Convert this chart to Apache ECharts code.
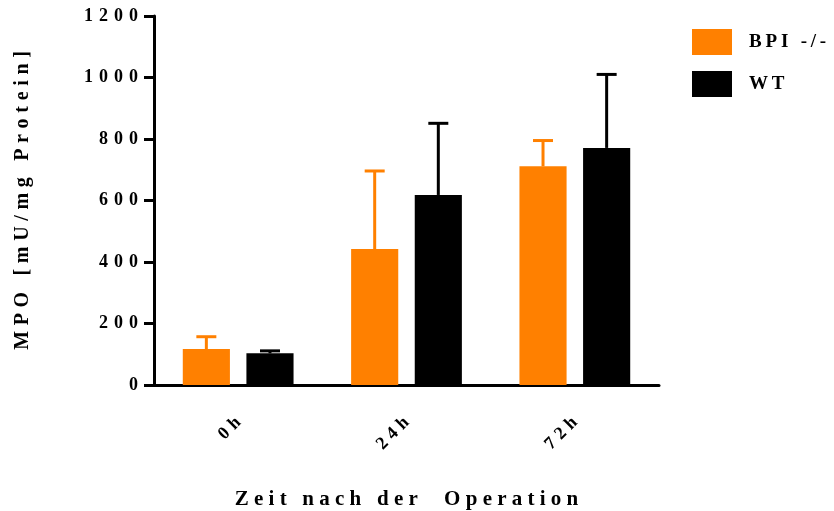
<!DOCTYPE html>
<html>
<head>
<meta charset="utf-8">
<script src="https://cdn.jsdelivr.net/npm/echarts@6/dist/echarts.min.js"></script>
<style>
  html, body { margin: 0; padding: 0; background: #fff; }
  #chart { width: 834px; height: 511px; }
</style>
</head>
<body>
<div id="chart"></div>
<script>
// MPO activity per time point after surgery
const categories = ['0h', '24h', '72h'];
const seriesNames = ['BPI -/-', 'WT'];
const bpiMean = [117, 442, 711];
const bpiUpper = [157, 696, 795];   // mean + error
const wtMean = [103, 618, 771];
const wtUpper = [111, 851, 1010];   // mean + error
const yTicks = [0, 200, 400, 600, 800, 1000, 1200];

const ORANGE = '#FF8000';
const BLACK = '#000000';
const FONT = '"Liberation Serif", "DejaVu Serif", serif';

const BAR_W = 0.28;   // fraction of category band
const BAR_GAP = 0.35; // fraction of bar width

const WIDE = ' \u200A';   // letter separator for spread-out labels

// spread letters like the original typesetting
function spaced(s, sep) {
  return s.split('').join(sep || WIDE);
}

function errorSeries(name, means, uppers, color, side) {
  return {
    type: 'custom',
    name: name + ' error',
    silent: true,
    z: 1,
    data: means.map((m, i) => [i, m, uppers[i]]),
    renderItem: function (params, api) {
      const idx = api.value(0);
      const base = api.coord([idx, api.value(1)]);
      const top = api.coord([idx, api.value(2)]);
      const band = api.size([1, 0])[0];
      const bw = band * BAR_W;
      const x = base[0] + side * (bw + bw * BAR_GAP) / 2;
      const capHalf = 10;
      return {
        type: 'group',
        children: [
          { type: 'line', shape: { x1: x, y1: base[1], x2: x, y2: top[1] },
            style: { stroke: color, lineWidth: 3 } },
          { type: 'line', shape: { x1: x - capHalf, y1: top[1], x2: x + capHalf, y2: top[1] },
            style: { stroke: color, lineWidth: 3 } }
        ]
      };
    }
  };
}

const chart = echarts.init(document.getElementById('chart'));
chart.setOption({
  animation: false,
  backgroundColor: '#fff',
  grid: { left: 154, right: 175, top: 16, bottom: 126, outerBoundsMode: 'none', containLabel: false },
  legend: {
    data: seriesNames,
    orient: 'vertical',
    left: 692,
    top: 29,
    padding: 0,
    itemWidth: 40,
    itemHeight: 26,
    itemGap: 16,
    icon: 'rect',
    textStyle: {
      fontFamily: FONT, fontWeight: 'bold', fontSize: 19, color: '#000',
      padding: [0, 0, 0, 12]
    },
    formatter: n => spaced(n, '\u2009')
  },
  xAxis: {
    type: 'category',
    data: categories,
    name: spaced('Zeit nach der  Operation', ' '),
    nameLocation: 'middle',
    nameGap: 104,
    nameTextStyle: { fontFamily: FONT, fontWeight: 'bold', fontSize: 21, color: '#000' },
    axisLine: { lineStyle: { color: '#000', width: 3 } },
    axisTick: { alignWithLabel: true, length: 9, lineStyle: { color: '#000', width: 3 } },
    axisLabel: {
      rotate: 45, margin: 35,
      fontFamily: FONT, fontWeight: 'bold', fontSize: 18, color: '#000',
      formatter: v => spaced(v, '\u2009\u200A')
    }
  },
  yAxis: {
    type: 'value',
    min: yTicks[0],
    max: yTicks[yTicks.length - 1],
    interval: 200,
    name: spaced('MPO [mU/mg Protein]', '\u2009\u200A'),
    nameLocation: 'middle',
    nameGap: 121,
    nameTextStyle: { fontFamily: FONT, fontWeight: 'bold', fontSize: 20, color: '#000' },
    axisLine: { show: true, lineStyle: { color: '#000', width: 3 } },
    axisTick: { show: true, length: 10, lineStyle: { color: '#000', width: 3 } },
    splitLine: { show: false },
    axisLabel: {
      margin: 16,
      fontFamily: FONT, fontWeight: 'bold', fontSize: 18, color: '#000',
      formatter: v => spaced(String(v))
    }
  },
  series: [
    {
      name: seriesNames[0], type: 'bar', data: bpiMean,
      barWidth: (BAR_W * 100) + '%', barGap: (BAR_GAP * 100) + '%',
      itemStyle: { color: ORANGE }, z: 2
    },
    {
      name: seriesNames[1], type: 'bar', data: wtMean,
      barWidth: (BAR_W * 100) + '%', barGap: (BAR_GAP * 100) + '%',
      itemStyle: { color: BLACK }, z: 2
    },
    errorSeries(seriesNames[0], bpiMean, bpiUpper, ORANGE, -1),
    errorSeries(seriesNames[1], wtMean, wtUpper, BLACK, 1)
  ]
});
</script>
</body>
</html>
